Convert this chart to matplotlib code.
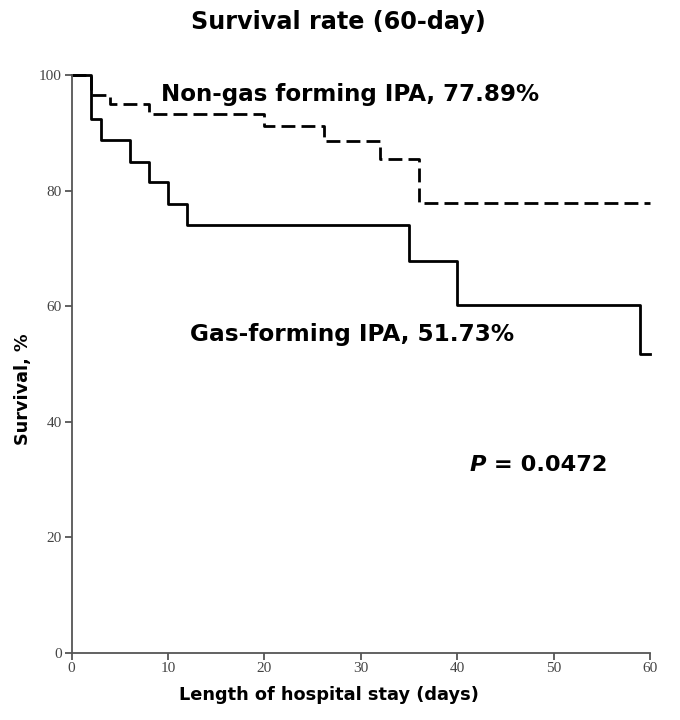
import matplotlib
matplotlib.use('Agg')
import matplotlib.pyplot as plt

# Kaplan-Meier step values
gas_days = [0, 2, 3, 6, 8, 10, 12, 35, 40, 59, 60]
gas_surv = [100, 92.4, 88.7, 85.0, 81.4, 77.7, 74.0, 67.8, 60.2, 51.73, 51.73]

nongas_days = [0, 2, 4, 8, 20, 26.2, 32, 36, 60]
nongas_surv = [100, 96.5, 94.9, 93.3, 91.2, 88.6, 85.5, 77.89, 77.89]

x_ticks = [0, 10, 20, 30, 40, 50, 60]
y_ticks = [0, 20, 40, 60, 80, 100]

fig = plt.figure(figsize=(6.8, 7.2), dpi=100)
ax = fig.add_axes([0.1054, 0.0935, 0.8505, 0.8023])

ax.step(gas_days, gas_surv, where='post', color='black', lw=2, clip_on=False)
ax.step(nongas_days, nongas_surv, where='post', color='black', lw=2,
        linestyle=(0, (5, 2.2)), clip_on=False)

ax.set_xlim(0, 60)
ax.set_ylim(0, 100)
ax.set_xticks(x_ticks)
ax.set_yticks(y_ticks)
for s in ['top', 'right']:
    ax.spines[s].set_visible(False)
for s in ['left', 'bottom']:
    ax.spines[s].set_color('#555555')
    ax.spines[s].set_linewidth(1.3)
ax.tick_params(direction='out', length=5, width=1.3, color='#555555',
               labelsize=11, labelcolor='#444444', pad=2)
for lab in ax.get_xticklabels() + ax.get_yticklabels():
    lab.set_fontfamily('Liberation Serif')

# annotations
ax.text(9.3, 96.6, 'Non-gas forming IPA, 77.89%', fontsize=16.6, fontweight='bold', va='center')
ax.text(12.3, 55.0, 'Gas-forming IPA, 51.73%', fontsize=16.7, fontweight='bold', va='center')
p_txt = ax.text(41.3, 32.5, 'P', fontsize=16.2, fontweight='bold',
                fontstyle='italic', va='center')
ax.annotate(' = 0.0472', xy=(1, 0.5), xycoords=p_txt, fontsize=16.2, fontweight='bold',
            va='center', ha='left')

fig.text(0.497, 0.969, 'Survival rate (60-day)', fontsize=17.2, fontweight='bold',
         ha='center', va='center')
fig.text(0.034, 0.459, 'Survival, %', fontsize=12.7, fontweight='bold',
         rotation=90, ha='center', va='center')
fig.text(0.484, 0.035, 'Length of hospital stay (days)', fontsize=12.8, fontweight='bold',
         ha='center', va='center')

fig.savefig('out.png', dpi=100)
